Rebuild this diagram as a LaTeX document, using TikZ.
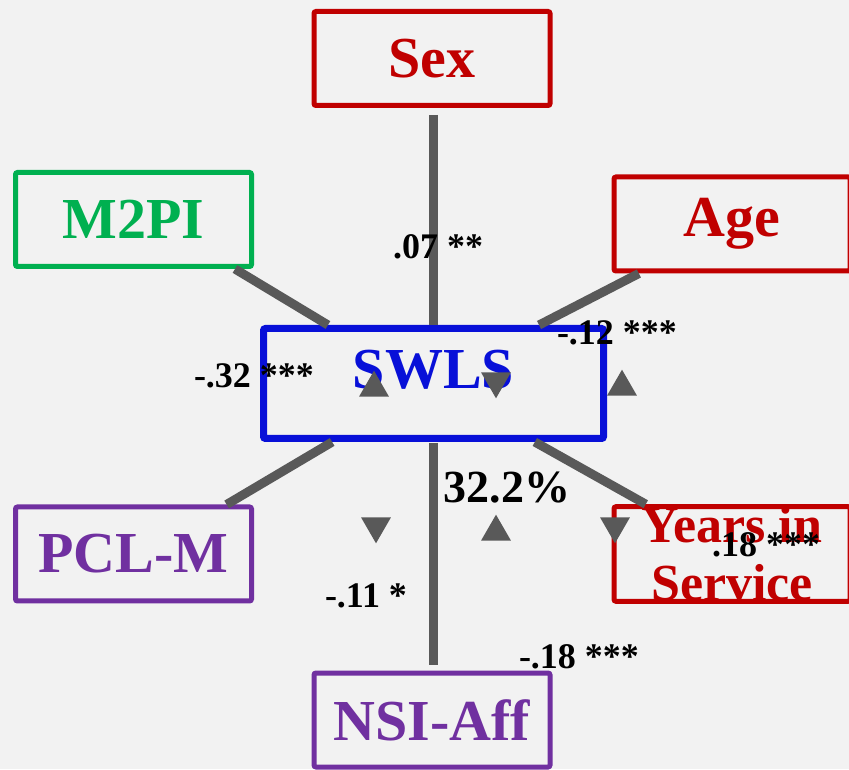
\documentclass[tikz,border=0pt]{standalone}
\usepackage{fontspec}
\setmainfont{Liberation Serif}
\usepackage{xcolor}
\usepackage{tikz}
\usetikzlibrary{shapes.geometric}
\tikzset{c-box/.style={rectangle, rounded corners=2pt, minimum width=236pt, minimum height=94pt, inner sep=0pt, line width=5pt, text centered, fill=c_bg, font=\bfseries\fontsize{58}{58}\selectfont},
c-boxmain/.style={c-box, minimum width=340pt, minimum height=110pt, line width=7pt, text depth=28pt},
link/.style={line width=9pt, draw=c_gray},
tri-up/.style={regular polygon, regular polygon sides=3, minimum size=34.6pt, inner sep=0pt, fill=c_gray},
tri-down/.style={tri-up, rotate=180},
coef/.style={anchor=base, inner sep=0pt, font=\bfseries\fontsize{36}{36}\selectfont}}
\definecolor{c_red}{RGB}{192,0,0}
\definecolor{c_green}{RGB}{0,176,80}
\definecolor{c_blue}{RGB}{8,16,216}
\definecolor{c_purple}{RGB}{112,48,160}
\definecolor{c_gray}{RGB}{89,89,89}
\definecolor{c_bg}{RGB}{242,242,242}

\begin{document}
\begin{tikzpicture}[x=1pt, y=1pt]
\clip (0,0) rectangle (849,769);
\fill [c_bg] (0,0) rectangle (849,769);
\node (swls) [c-boxmain, draw=c_blue, text=c_blue] at (433.5,385.5) {SWLS};
\node (sex) [c-box, draw=c_red, text=c_red] at (432,710.5) {Sex};
\node (m2pi) [c-box, draw=c_green, text=c_green] at (133.5,549.5) {M2PI};
\node (age) [c-box, draw=c_red, text=c_red] at (732,545) {Age};
\node (pclm) [c-box, draw=c_purple, text=c_purple] at (133.5,215) {PCL-M};
\node (years) [c-box, draw=c_red, text=c_red, align=center, font=\bfseries\fontsize{52}{58}\selectfont] at (732,215) {Years in\\Service};
\node (nsi) [c-box, draw=c_purple, text=c_purple] at (432,49) {NSI-Aff};
\draw [link, shorten <=7pt] (sex.south -| swls.north) -- (swls.north);
\draw [link] (m2pi.-26) -- (swls.151);
\draw [link] (age.-152) -- (swls.29);
\draw [link] (pclm.28) -- (swls.-150);
\draw [link] (years.150) -- (swls.-30);
\draw [link, shorten <=1pt, shorten >=6pt] (swls.south) -- (swls.south |- nsi.north);
\node (t1) [tri-up] at (374,381) {};
\node (t2) [tri-down] at (496,388) {};
\node (t3) [tri-up] at (622,382) {};
\node (t4) [tri-down] at (376,243) {};
\node (t5) [tri-up] at (496,237) {};
\node (t6) [tri-down] at (615,243) {};
\node (e_sex) [coef] at (438,510) {.07 **};
\node (e_age) [coef] at (617,424) {-.12 ***};
\node (e_m2pi) [coef] at (254,381) {-.32 ***};
\node (e_r2) [coef, font=\bfseries\fontsize{46}{46}\selectfont] at (507,266) {32.2\%};
\node (e_years) [coef] at (766,212) {.18 ***};
\node (e_pclm) [coef] at (366,161) {-.11 *};
\node (e_nsi) [coef] at (579,101) {-.18 ***};
\end{tikzpicture}
\end{document}
